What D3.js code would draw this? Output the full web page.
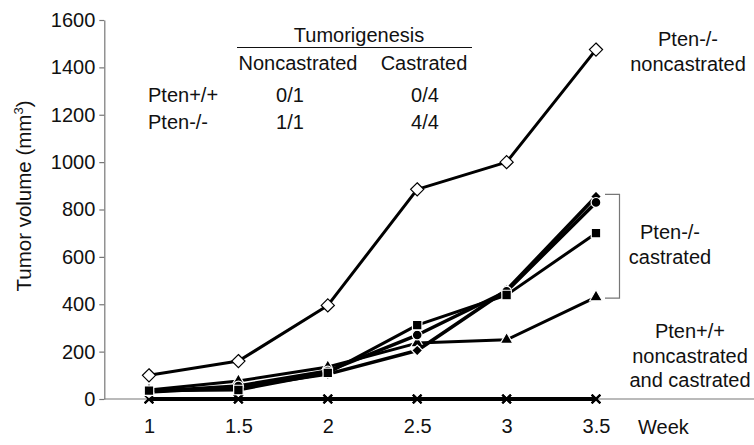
<!DOCTYPE html>
<html>
<head>
<meta charset="utf-8">
<script src="https://cdn.jsdelivr.net/npm/d3@7"></script>
<style>
  body { margin: 0; background: #fff; }
  text { font-family: "Liberation Sans", Arial, sans-serif; fill: #111; }
</style>
</head>
<body>
<div id="chart"></div>
<script>
// data
const weeks = [1, 1.5, 2, 2.5, 3, 3.5];
const weekLabels = ["1", "1.5", "2", "2.5", "3", "3.5"];
const yTicks = [0, 200, 400, 600, 800, 1000, 1200, 1400, 1600];

const ptenNullNoncastrated = [100, 160, 395, 885, 1000, 1475];
const ptenNullCastratedSquare = [35, 38, 110, 312, 439, 700];
const ptenNullCastratedCircle = [32, 55, 118, 270, 455, 830];
const ptenNullCastratedDiamond = [30, 50, 105, 205, 460, 855];
const ptenNullCastratedTriangle = [38, 76, 135, 236, 250, 430];
const ptenWtNoncastrated = [0, 0, 0, 0, 0, 0];
const ptenWtCastrated = [0, 0, 0, 0, 0, 0];

const tableCols = ["Noncastrated", "Castrated"];
const tableRows = ["Pten+/+", "Pten-/-"];
const tableValues = [["0/1", "0/4"], ["1/1", "4/4"]];

const W = 754, H = 445;
const fs = "20px";

const svg = d3.select("#chart")
    .append("svg")
    .attr("width", W)
    .attr("height", H);

// scales
const x = d3.scaleLinear()
    .domain([1, 3.5])
    .range([149, 596]);
const y = d3.scaleLinear()
    .domain([0, 1600])
    .range([399, 20]);

// Y axis
const yAxis = svg.append("g")
    .attr("transform", "translate(" + x(0.75) + ",0)")
    .call(d3.axisLeft(y).tickValues(yTicks).tickFormat(d3.format("d"))
        .tickSize(5).tickSizeOuter(0).tickPadding(4));
yAxis.select(".domain").attr("stroke", "#777").attr("stroke-width", 1.2);
yAxis.selectAll(".tick line").attr("stroke", "#777").attr("stroke-width", 1.2);
yAxis.selectAll(".tick text").style("font-size", fs).attr("fill", "#111");

// X axis (no tick marks, line runs to the right edge)
const xAxis = svg.append("g")
    .attr("transform", "translate(0," + y(0) + ")")
    .call(d3.axisBottom(x).tickValues(weeks).tickFormat((d, i) => weekLabels[i]).tickSize(0).tickPadding(20));
xAxis.select(".domain").remove();
xAxis.selectAll(".tick text").style("font-size", fs).attr("fill", "#111");
svg.append("line")
    .attr("x1", x(0.75)).attr("x2", W)
    .attr("y1", y(0)).attr("y2", y(0))
    .attr("stroke", "#777").attr("stroke-width", 1.2);

svg.append("text")
    .attr("x", 638).attr("y", 434)
    .style("font-size", fs)
    .text("Week");

// Y title
svg.append("text")
    .attr("transform", "translate(31,196) rotate(-90)")
    .attr("text-anchor", "middle")
    .style("font-size", "20.5px")
    .html("Tumor volume (mm<tspan dy='-8' font-size='13px'>3</tspan><tspan dy='8'>)</tspan>");

// series
const series = [
    {values: ptenWtNoncastrated, symbol: d3.symbolX, fill: "none", stroke: "#000", size: 50, w: 4},
    {values: ptenWtCastrated, symbol: d3.symbolX, fill: "none", stroke: "#000", size: 50, w: 4},
    {values: ptenNullCastratedTriangle, symbol: d3.symbolTriangle, fill: "#000", stroke: "#fff", size: 70, w: 3},
    {values: ptenNullCastratedDiamond, symbol: d3.symbolDiamond2, fill: "#000", stroke: "#fff", size: 75, w: 3.5},
    {values: ptenNullCastratedCircle, symbol: d3.symbolCircle, fill: "#000", stroke: "#fff", size: 75, w: 3.5},
    {values: ptenNullCastratedSquare, symbol: d3.symbolSquare, fill: "#000", stroke: "#fff", size: 90, w: 3},
    {values: ptenNullNoncastrated, symbol: d3.symbolDiamond2, fill: "#fff", stroke: "#000", size: 110, w: 3}
];

const line = d3.line()
    .x((d, i) => x(weeks[i]))
    .y(d => y(d));

series.forEach(s => {
    svg.append("path")
        .datum(s.values)
        .attr("d", line)
        .attr("fill", "none")
        .attr("stroke", "#000")
        .attr("stroke-width", s.w)
        .attr("stroke-linejoin", "round");

    svg.append("g")
        .selectAll("path")
        .data(s.values)
        .join("path")
        .attr("transform", (d, i) => "translate(" + x(weeks[i]) + "," + y(d) + ")")
        .attr("d", d3.symbol().type(s.symbol).size(s.size))
        .attr("fill", s.fill)
        .attr("stroke", s.stroke)
        .attr("stroke-width", s.symbol === d3.symbolX ? 2.2 : 1.2);
});

// tumorigenesis table
const table = svg.append("g").style("font-size", fs);
table.append("text")
    .attr("x", 359).attr("y", 42)
    .attr("text-anchor", "middle")
    .text("Tumorigenesis");
table.append("line")
    .attr("x1", 237).attr("x2", 472)
    .attr("y1", 47.5).attr("y2", 47.5)
    .attr("stroke", "#111").attr("stroke-width", 1.2);
const colX = [298, 424];
const valX = [290, 425];
tableCols.forEach((c, i) => {
    table.append("text")
        .attr("x", colX[i]).attr("y", 70)
        .attr("text-anchor", "middle")
        .text(c);
});
tableRows.forEach((r, j) => {
    const ty = 102 + j * 27;
    table.append("text")
        .attr("x", 148).attr("y", ty)
        .text(r);
    tableValues[j].forEach((v, i) => {
        table.append("text")
            .attr("x", valX[i]).attr("y", ty)
            .attr("text-anchor", "middle")
            .text(v);
    });
});

// right side labels
const labels = [
    {lines: ["Pten-/-", "noncastrated"], cx: 688, y0: 46},
    {lines: ["Pten-/-", "castrated"], cx: 670, y0: 239},
    {lines: ["Pten+/+", "noncastrated", "and castrated"], cx: 690, y0: 338}
];
labels.forEach(l => {
    l.lines.forEach((t, i) => {
        svg.append("text")
            .attr("x", l.cx).attr("y", l.y0 + i * 24.5)
            .attr("text-anchor", "middle")
            .style("font-size", fs)
            .text(t);
    });
});

// bracket around castrated end points
svg.append("path")
    .attr("d", "M605," + (y(ptenNullCastratedDiamond[5]) - 2) + "H619.5V" + (y(ptenNullCastratedTriangle[5]) + 1) + "H605")
    .attr("fill", "none")
    .attr("stroke", "#777")
    .attr("stroke-width", 1.2);
</script>
</body>
</html>
